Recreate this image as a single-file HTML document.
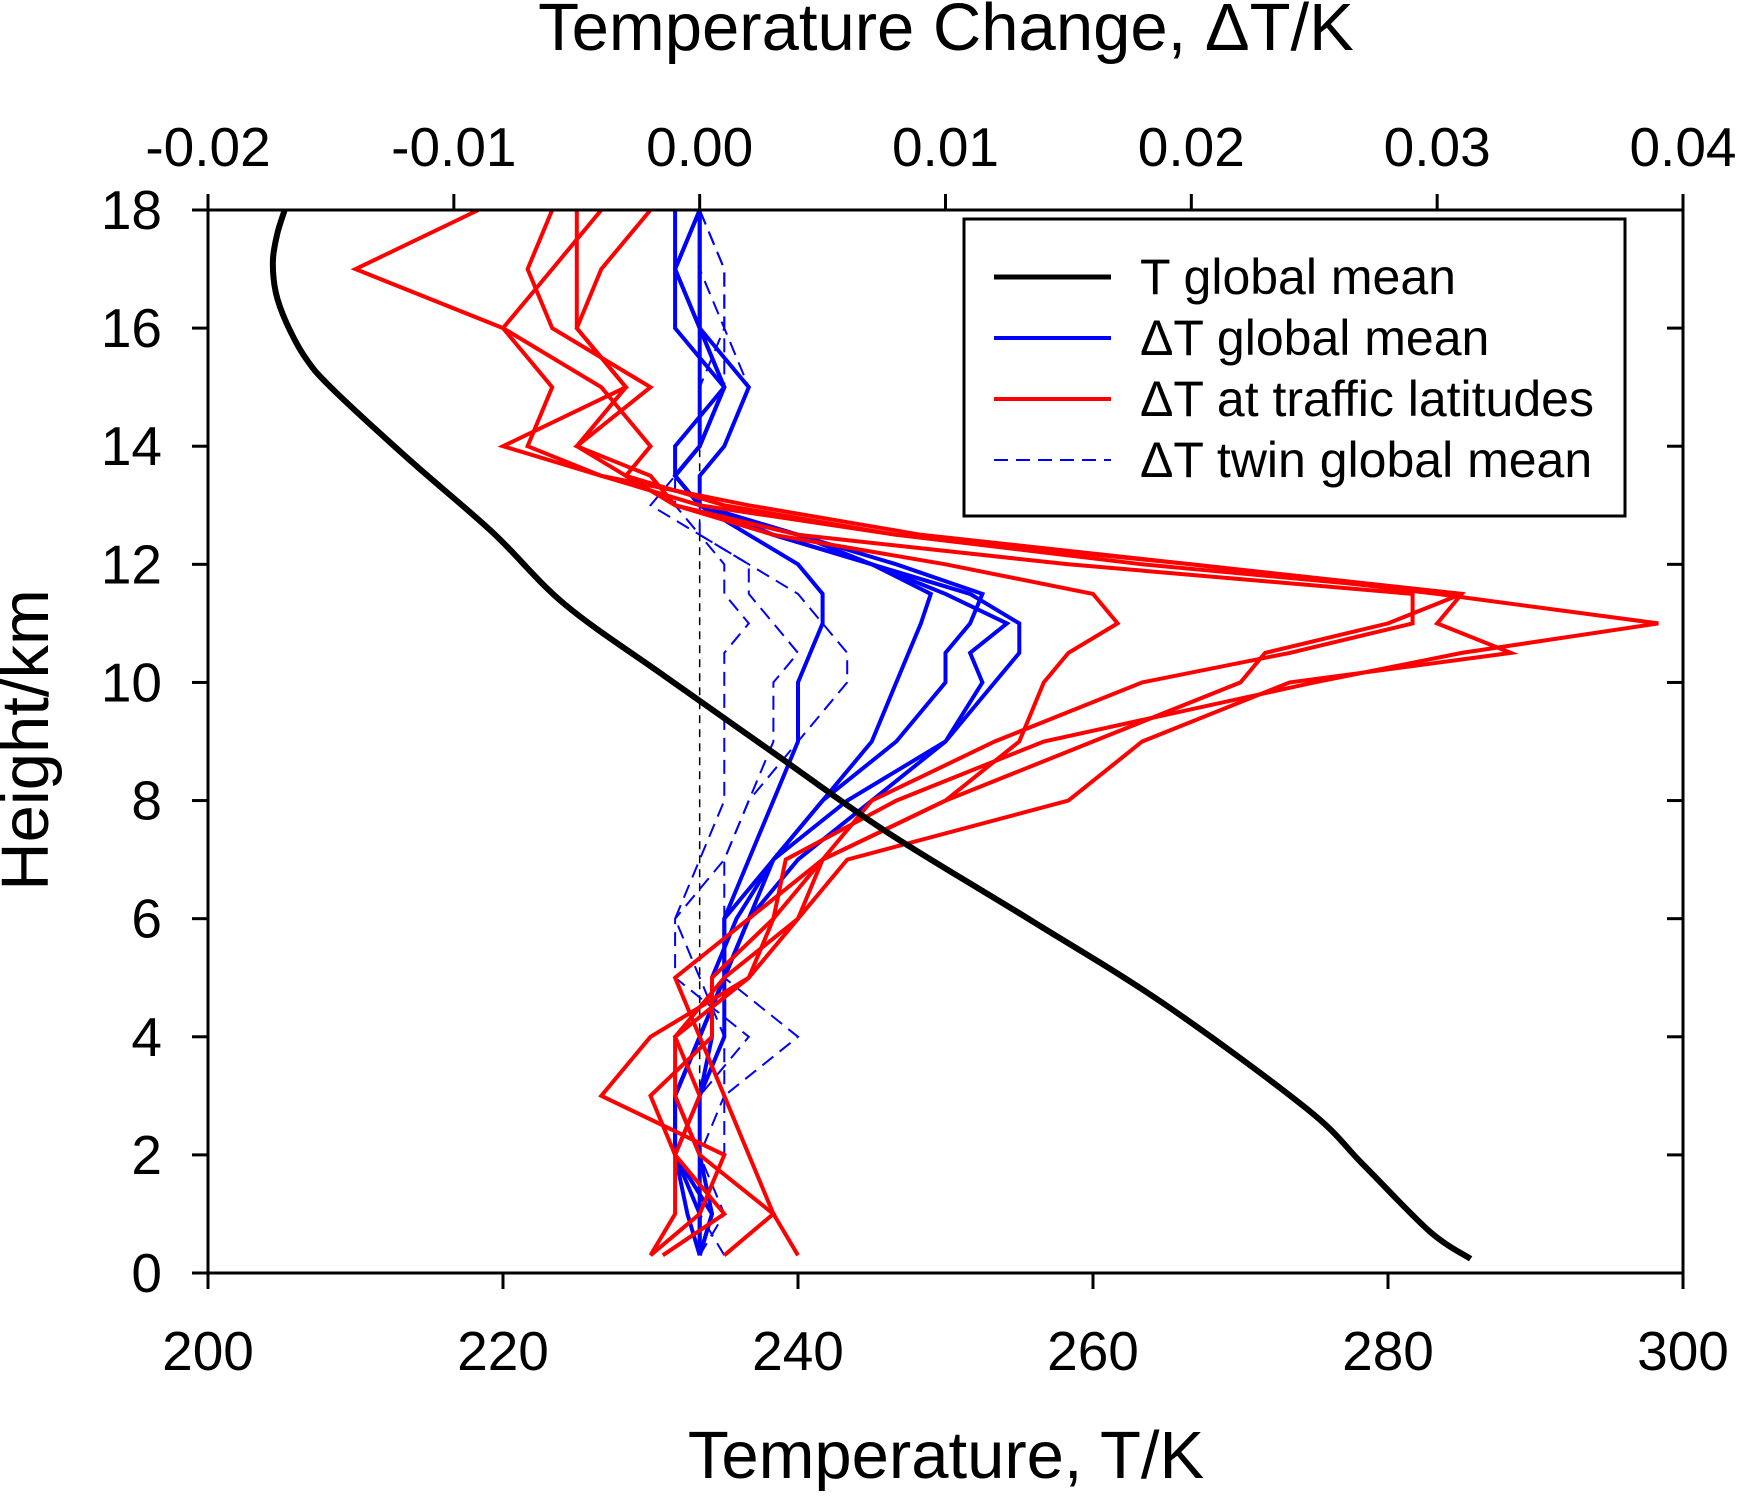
<!DOCTYPE html>
<html><head><meta charset="utf-8"><style>
body{margin:0;background:#fff}
svg text{font-family:"Liberation Sans",sans-serif;fill:#000}
</style></head><body>
<svg id="chart" width="1737" height="1491" viewBox="0 0 1737 1491" xmlns="http://www.w3.org/2000/svg">
<g id="marks"></g>
<g id="axes"></g>
</svg>
<script>
const heights=[0.3,1,2,3,4,5,6,7,8,9,10,10.5,11,11.5,12,12.5,13,13.5,14,15,16,17,18];
// delta T in units of 0.001 K
const red1=[-1.5,1,-1,-2,0.5,0.5,3,3.5,8,14,25,31,39,30,20,9,2,-4,-7,-6,-8,-14,-9];
const red2=[1,3,0,-1,-1,1,4,6,15,18,24,33,30,31,18,8,1,-3,-5,-2,-6,-7,-6];
const red3=[-2,0,1,-4,-2,2,4,5,10,16,22,23,28,31,20,8,0,-4,-8,-3,-5,-5,-5];
const red4=[4,3,2,1,0,-1,2,5,7,12,18,24,29,29,15,4,-1,-3,-2,-4,-8,-6,-4];
const red5=[-2,-1,-1,0,-1,2,3,5,10,13,14,15,17,16,10,3,-1,-2,-5,-3,-5,-4,-2];
const blue1=[0,0,-1,0,0.5,0.5,1.5,3,6,10,12,13,13,11,7,3,0,-1,-1,1,0,0,0];
const blue2=[0,-0.5,-1,-1,0,1,2,4,7,10,11.5,11,12.5,10,7,3,0,0,1,2,0,-1,0];
const blue3=[0,0.5,0,0,1,1,2,3,5,8,10,10,11,11.5,8,4,0,-1,0,1,0,-1,-1];
const blue4=[0,0,0,-1,0,1,1,3,5,7,8,8.5,9,9.4,7,4,0,-1,0,1,-1,-1,0];
const blue5=[0,0.5,-1,-1,0,1,1,2,3,4,4,4.5,5,5,4,2,0,-1,0,0,0,0,0];
const twin1=[1,0,1,1,4,1,1,1,2,4,6,6,5,4,2,0,-1,-1,0,1,1,1,0];
const twin2=[0,1,0,0,2,-1,-1,1,2,3,3,4,3,2,2,0,-2,-1,0,0,1,1,0];
const twin3=[0,0,0,1,1,0,-1,0,1,1,1,1,2,1,1,0,0,0,1,2,1,0,0];
const tHeights=[18,17.6,17.14,16.6,16.1,15.5,14.98,13.76,12.54,11.32,10.1,8.78,7.47,5.97,4.56,2.78,1.84,0.71,0.24];
const tValues=[205.2,204.7,204.4,204.6,205.3,206.6,208.4,213.7,219.3,224.2,231.0,238.5,246.0,255.8,264.8,274.5,278.3,282.8,285.6];
const bottomTicks=[200,220,240,260,280,300];
const topTicks=["-0.02","-0.01","0.00","0.01","0.02","0.03","0.04"];
const leftTicks=[0,2,4,6,8,10,12,14,16,18];

const L=208,R=1683,T=210,B=1273;
const xT=v=>L+(v-200)/100*(R-L);
const xD=v=>L+(v*0.001+0.02)/0.06*(R-L);
const yH=h=>B-h/18*(B-T);
const NS="http://www.w3.org/2000/svg";
const marks=document.getElementById('marks'),axes=document.getElementById('axes');
function mk(tag,parent,attrs){const e=document.createElementNS(NS,tag);for(const k in attrs)e.setAttribute(k,attrs[k]);parent.appendChild(e);return e;}
function series(vals,hs,xf,color,w,dash,name){
  const d=vals.map((v,i)=>(i?'L':'M')+xf(v).toFixed(1)+','+yH(hs[i]).toFixed(1)).join('');
  const p=mk('path',marks,{d:d,fill:'none',stroke:color,'stroke-width':w,'stroke-linejoin':'miter'});
  if(dash)p.setAttribute('stroke-dasharray',dash);
  
  
}
function smooth(vals,hs,xf,color,w,name){
  const P=vals.map((v,i)=>[xf(v),yH(hs[i])]);
  let d='M'+P[0][0].toFixed(1)+','+P[0][1].toFixed(1);
  for(let i=0;i<P.length-1;i++){
    const p0=P[i-1]||P[i],p1=P[i],p2=P[i+1],p3=P[i+2]||P[i+1];
    const c1=[p1[0]+(p2[0]-p0[0])/6,p1[1]+(p2[1]-p0[1])/6];
    const c2=[p2[0]-(p3[0]-p1[0])/6,p2[1]-(p3[1]-p1[1])/6];
    d+='C'+c1.join(',')+' '+c2.join(',')+' '+p2.join(',');
  }
  const p=mk('path',marks,{d:d,fill:'none',stroke:color,'stroke-width':w});
  
  
}
mk('line',marks,{x1:xD(0),x2:xD(0),y1:yH(0.3),y2:yH(18),stroke:'#000','stroke-width':1.5,'stroke-dasharray':'8,6'});
[twin1,twin2,twin3].forEach((s,i)=>series(s,heights,xD,'#0000ff',2,'14,8','twin-series-'+(i+1)));
[blue1,blue2,blue3,blue4,blue5].forEach((s,i)=>series(s,heights,xD,'#0000ff',4,null,'delta-t-global-'+(i+1)));
[red1,red2,red3,red4,red5].forEach((s,i)=>series(s,heights,xD,'#ff0000',4,null,'delta-t-traffic-'+(i+1)));
smooth(tValues,tHeights,xT,'#000',6,'t-global-mean-line');

[[L,T,R,T],[L,B,R,B],[L,T,L,B],[R,T,R,B]].forEach(a=>mk('line',axes,{x1:a[0],y1:a[1],x2:a[2],y2:a[3],stroke:'#000','stroke-width':3}));
bottomTicks.forEach(v=>{const x=xT(v);mk('line',axes,{x1:x,x2:x,y1:B,y2:B+16,stroke:'#000','stroke-width':3});
 const t=mk('text',axes,{x:x,y:1370,'font-size':55,'text-anchor':'middle'});t.textContent=v;
 
 });
topTicks.forEach(v=>{const x=xD(parseFloat(v)*1000);mk('line',axes,{x1:x,x2:x,y1:T,y2:T-16,stroke:'#000','stroke-width':3});
 const t=mk('text',axes,{x:x,y:166,'font-size':55,'text-anchor':'middle'});t.textContent=v;
 
 });
leftTicks.forEach(v=>{const y=yH(v);mk('line',axes,{x1:L,x2:L-16,y1:y,y2:y,stroke:'#000','stroke-width':3});
 mk('line',axes,{x1:R,x2:R-16,y1:y,y2:y,stroke:'#000','stroke-width':3});
 const t=mk('text',axes,{x:162,y:y+19,'font-size':55,'text-anchor':'end'});t.textContent=v;
 
 });
</script>
<svg style="position:absolute;left:0;top:0" width="1737" height="1491">
<text x="946" y="50" font-size="67" text-anchor="middle">Temperature Change, ΔT/K</text>
<text x="946" y="1478" font-size="67" text-anchor="middle">Temperature, T/K</text>
<text transform="translate(48,740) rotate(-90)" font-size="67" text-anchor="middle">Height/km</text>
<g>
<rect x="964" y="219" width="661" height="297" fill="#fff" stroke="#000" stroke-width="3"/>
<line x1="994" x2="1111" y1="277" y2="277" stroke="#000" stroke-width="5"/>
<text x="1140" y="294" font-size="50">T global mean</text>
<line x1="994" x2="1111" y1="338" y2="338" stroke="#0000ff" stroke-width="4"/>
<text x="1140" y="355" font-size="50">ΔT global mean</text>
<line x1="994" x2="1111" y1="399" y2="399" stroke="#ff0000" stroke-width="4"/>
<text x="1140" y="416" font-size="50">ΔT at traffic latitudes</text>
<line x1="994" x2="1111" y1="460" y2="460" stroke="#0000ff" stroke-width="2" stroke-dasharray="14,8"/>
<text x="1140" y="477" font-size="50">ΔT twin global mean</text>
</g>
</svg>
</body></html>
